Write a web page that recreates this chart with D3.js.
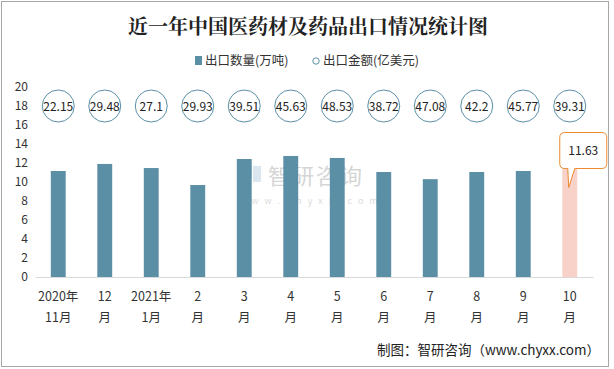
<!DOCTYPE html>
<html><head><meta charset="utf-8">
<script src="https://cdn.jsdelivr.net/npm/d3@7"></script>
<style>body{margin:0;background:#fff;}svg{display:block;font-family:"Noto Sans CJK SC","Microsoft YaHei",sans-serif;}</style>
</head><body>
<script>
const categories = ["2020年\n11月","12\n月","2021年\n1月","2\n月","3\n月","4\n月","5\n月","6\n月","7\n月","8\n月","9\n月","10\n月"];
const quantity = [11.16, 11.9, 11.47, 9.68, 12.42, 12.74, 12.53, 11.05, 10.3, 11.05, 11.16, 11.63];
const amount = [22.15, 29.48, 27.1, 29.93, 39.51, 45.63, 48.53, 38.72, 47.08, 42.2, 45.77, 39.31];
const yTicks = [0,2,4,6,8,10,12,14,16,18,20];
const circleLevel = 18;

const W=614,H=369;
const svg=d3.select("body").append("svg").attr("width",W).attr("height",H);
svg.append("rect").attr("x",1.5).attr("y",1.5).attr("width",607).attr("height",365).attr("fill","#fff").attr("stroke","#a6a6a6");

svg.append("text").attr("x",308).attr("y",34).attr("text-anchor","middle").attr("font-size",20).attr("font-weight","bold")
  .attr("fill","#222").attr("font-family","'Noto Serif CJK SC','Noto Sans CJK SC',serif").text("近一年中国医药材及药品出口情况统计图");

// legend
const lg=svg.append("g").attr("font-size",12.5).attr("fill","#333");
lg.append("rect").attr("x",195).attr("y",56).attr("width",7).attr("height",9).attr("fill","#5b8fa6");
lg.append("text").attr("x",205).attr("y",65).attr("fill","#333").text("出口数量(万吨)");
lg.append("circle").attr("cx",316).attr("cy",61).attr("r",3.2).attr("fill","none").attr("stroke","#5b8fa6");
lg.append("text").attr("x",323).attr("y",65).attr("fill","#333").text("出口金额(亿美元)");

const x=d3.scaleBand().domain(categories).range([35,593]).paddingInner(0.68).paddingOuter(0.34);
const y=d3.scaleLinear().domain([0,20]).range([277,87]);

// watermark
const wm=svg.append("g").attr("opacity",0.35);
wm.append("rect").attr("x",240).attr("y",166).attr("width",12).attr("height",12).attr("fill","#7fa8c8");
wm.append("rect").attr("x",253).attr("y",166).attr("width",8).attr("height",16).attr("fill","#9bb8d0");
wm.append("text").attr("x",268).attr("y",184).attr("font-size",22).attr("fill","#888").attr("letter-spacing",2).text("智研咨询");
wm.append("text").attr("x",238).attr("y",204).attr("font-size",9).attr("fill","#999").attr("letter-spacing",6).text("www.chyxx.com");

// y axis
const ya=svg.append("g").attr("transform","translate(30,0)").call(d3.axisLeft(y).tickValues(yTicks).tickSize(0).tickPadding(0));
ya.select(".domain").remove();
ya.selectAll("text").attr("font-size",12).attr("fill","#333").attr("font-family","'Noto Sans CJK SC',sans-serif").attr("dx",-2);

// baseline
const xa=svg.append("g").attr("transform","translate(0,277)").call(d3.axisBottom(x).tickSize(0).tickFormat(""));
xa.select(".domain").attr("stroke","#d9d9d9");

// bars
svg.selectAll(".bar").data(quantity).enter().append("rect")
  .attr("x",(d,i)=>x(categories[i])).attr("width",x.bandwidth())
  .attr("y",d=>y(d)).attr("height",d=>y(0)-y(d))
  .attr("fill",(d,i)=>i===quantity.length-1?"#f8d1c9":"#5b8fa6");

// circles
const cg=svg.selectAll(".c").data(amount).enter().append("g")
  .attr("transform",(d,i)=>`translate(${x(categories[i])+x.bandwidth()/2},${y(circleLevel)})`);
cg.append("ellipse").attr("rx",16).attr("ry",16).attr("fill","#fff").attr("stroke","#5b8fa6").attr("stroke-width",1);
cg.append("text").attr("text-anchor","middle").attr("dy",4.5).attr("font-size",12).attr("fill","#222").text(d=>d);

// x labels
categories.forEach((c,i)=>{
  const lines=c.split("\n");
  const t=svg.append("text").attr("x",x(c)+x.bandwidth()/2).attr("text-anchor","middle").attr("font-size",12.5).attr("fill","#333");
  lines.forEach((l,j)=>t.append("tspan").attr("x",x(c)+x.bandwidth()/2).attr("y",301+j*21).text(l));
});

// callout for last bar
const li=quantity.length-1, lx=x(categories[li])+x.bandwidth()/2, ly=y(quantity[li]);
const bx0=lx-10, bx1=lx+37, by0=ly-34, by1=ly+2;
const r=5;
const path=`M${bx0+r},${by0} H${bx1-r} Q${bx1},${by0} ${bx1},${by0+r} V${by1-r} Q${bx1},${by1} ${bx1-r},${by1} H${lx+5} L${lx-1},${ly+21} L${lx-2},${by1} H${bx0+r} Q${bx0},${by1} ${bx0},${by1-r} V${by0+r} Q${bx0},${by0} ${bx0+r},${by0} Z`;
svg.append("path").attr("d",path).attr("fill","#fff").attr("stroke","#ed8a2f").attr("stroke-width",1);
svg.append("text").attr("x",(bx0+bx1)/2).attr("y",(by0+by1)/2+4).attr("text-anchor","middle").attr("font-size",12).attr("fill","#222").text(quantity[li]);

// footer
svg.append("text").attr("x",600).attr("y",355).attr("text-anchor","end").attr("font-size",13.5).attr("fill","#222").text("制图：智研咨询（www.chyxx.com）");
</script>
</body></html>
